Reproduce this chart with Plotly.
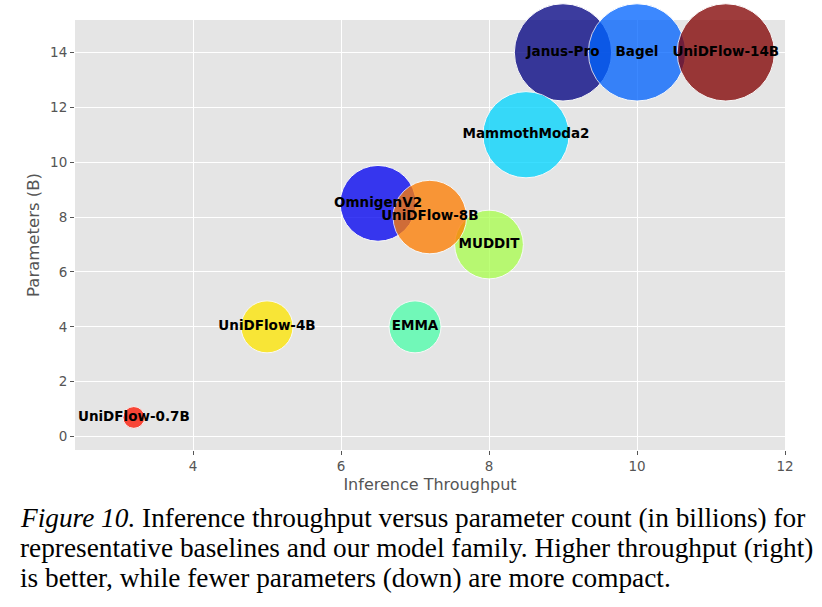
import numpy as np
import plotly.graph_objects as go

models = ["Janus-Pro", "Bagel", "UniDFlow-14B", "MammothModa2", "OmnigenV2",
          "MUDDIT", "UniDFlow-8B", "EMMA", "UniDFlow-4B", "UniDFlow-0.7B"]
throughput = [9.0, 10.0, 11.2, 8.5, 6.5, 8.0, 7.2, 7.0, 5.0, 3.2]
params_b = [14, 14, 14, 11, 8.5, 7, 8, 4, 4, 0.7]

caption_lines = [
    "<i>Figure 10.</i> Inference throughput versus parameter count (in billions) for",
    "representative baselines and our model family. Higher throughput (right)",
    "is better, while fewer parameters (down) are more compact.",
]

colors = ["#000080", "#0063ff", "#800000", "#00d4ff", "#0000f1",
          "#a9ff4e", "#ff7d00", "#4effaa", "#ffe600", "#ff1400"]

fig = go.Figure()
fig.add_trace(go.Scatter(
    x=throughput, y=params_b, mode="markers+text", text=models,
    textposition="middle center",
    textfont=dict(family="DejaVu Sans", size=13.5, color="black", weight="bold"),
    marker=dict(size=params_b, sizemode="area", sizeref=1 / 338,
                color=colors, opacity=0.76,
                line=dict(color="white", width=1)),
    cliponaxis=False, showlegend=False, hoverinfo="skip",
))

axis_common = dict(
    showgrid=True, gridcolor="white", gridwidth=1, zeroline=False,
    ticks="outside", ticklen=4, tickcolor="#555555", tickwidth=1,
    tickfont=dict(family="DejaVu Sans", size=13.5, color="#555555"),
    showline=False,
)
fig.update_xaxes(range=[2.405, 12], tickvals=[4, 6, 8, 10, 12],
                 title=dict(text="Inference Throughput", standoff=5,
                            font=dict(family="DejaVu Sans", size=16, color="#555555")),
                 **axis_common)
fig.update_yaxes(range=[-0.486, 15.18], tickvals=[0, 2, 4, 6, 8, 10, 12, 14],
                 title=dict(text="Parameters (B)", standoff=6,
                            font=dict(family="DejaVu Sans", size=16.5, color="#555555")),
                 **axis_common)

for i, line in enumerate(caption_lines):
    fig.add_annotation(
        xref="paper", yref="paper", x=-0.0803, y=-0.158 - 0.0698 * i,
        xanchor="left", yanchor="middle", align="left", showarrow=False,
        text=line, font=dict(family="Liberation Serif", size=27.3, color="black"),
    )

fig.update_layout(
    width=822, height=607, margin=dict(l=75, r=37, t=20, b=157),
    plot_bgcolor="#e5e5e5", paper_bgcolor="white",
)
fig.write_html("out.html")
